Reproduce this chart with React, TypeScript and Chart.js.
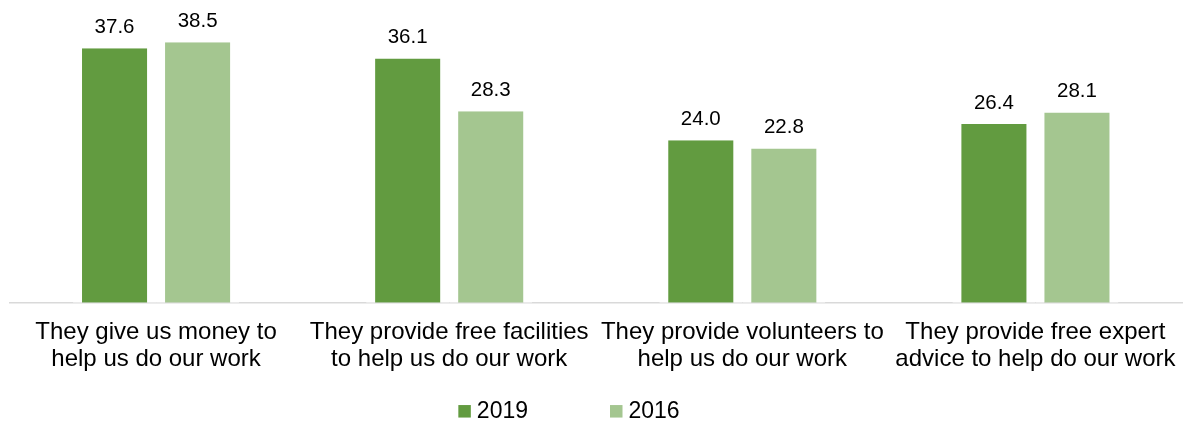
import React, { useEffect, useRef } from "react";
import { Chart, registerables } from "chart.js";

Chart.register(...registerables);

const categories: string[][] = [
  ["They give us money to", "help us do our work"],
  ["They provide free facilities", "to help us do our work"],
  ["They provide volunteers to", "help us do our work"],
  ["They provide free expert", "advice to help do our work"],
];
const series2019: number[] = [37.6, 36.1, 24.0, 26.4];
const series2016: number[] = [38.5, 28.3, 22.8, 28.1];
const seriesNames: string[] = ["2019", "2016"];

const FONT = "'Liberation Sans', Arial, sans-serif";

const valueLabels = {
  id: "valueLabels",
  afterDatasetsDraw(chart: any) {
    const ctx = chart.ctx;
    ctx.save();
    ctx.font = `20.5px ${FONT}`;
    ctx.fillStyle = "#000000";
    ctx.textAlign = "center";
    ctx.textBaseline = "alphabetic";
    chart.data.datasets.forEach((ds: any, di: number) => {
      const meta = chart.getDatasetMeta(di);
      meta.data.forEach((bar: any, i: number) => {
        const v = ds.data[i] as number;
        ctx.fillText(v.toFixed(1), bar.x, bar.y - 15.5);
      });
    });
    ctx.restore();
  },
};

// Legend drawn on the canvas below the axis labels
const bottomLegend = {
  id: "bottomLegend",
  afterDraw(chart: any) {
    const ctx = chart.ctx;
    ctx.save();
    ctx.font = `23px ${FONT}`;
    ctx.textBaseline = "middle";
    ctx.textAlign = "left";
    const box = 12.5;
    const textGap = 6;
    const itemGap = 82;
    const items = chart.data.datasets.map((ds: any) => ({
      label: ds.label as string,
      color: ds.backgroundColor as string,
      w: box + textGap + ctx.measureText(ds.label).width,
    }));
    const total = items.reduce((s: number, it: any) => s + it.w, 0) + itemGap * (items.length - 1);
    let x = 569 - total / 2;
    const cy = 411.3;
    items.forEach((it: any) => {
      ctx.fillStyle = it.color;
      ctx.fillRect(x, cy - box / 2, box, box);
      ctx.fillStyle = "#000000";
      ctx.fillText(it.label, x + box + textGap, cy);
      x += it.w + itemGap;
    });
    ctx.restore();
  },
};

export default function App() {
  const ref = useRef<HTMLCanvasElement | null>(null);
  useEffect(() => {
    document.body.style.margin = "0";
    if (!ref.current) return;
    const chart = new Chart(ref.current, {
      type: "bar",
      data: {
        labels: categories,
        datasets: [
          {
            label: seriesNames[0],
            data: series2019,
            backgroundColor: "#629B40",
            borderColor: "#ffffff",
            borderWidth: { left: 9, right: 9, top: 0, bottom: 0 },
            borderSkipped: false,
            categoryPercentage: 0.5666,
            barPercentage: 1,
          },
          {
            label: seriesNames[1],
            data: series2016,
            backgroundColor: "#A4C690",
            borderColor: "#ffffff",
            borderWidth: { left: 9, right: 9, top: 0, bottom: 0 },
            borderSkipped: false,
            categoryPercentage: 0.5666,
            barPercentage: 1,
          },
        ],
      },
      options: {
        animation: false,
        responsive: false,
        maintainAspectRatio: false,
        layout: { padding: { left: 9.5, right: 2, top: 32, bottom: 34 } },
        scales: {
          x: {
            z: 1,
            afterFit: (scale: any) => {
              scale.paddingLeft = 0;
              scale.paddingRight = 0;
            },
            grid: { display: false, drawTicks: false },
            border: { display: true, color: "#d9d9d9", width: 1.5 },
            ticks: {
              color: "#000000",
              font: { family: FONT, size: 24, lineHeight: 1.13 },
              padding: 16,
              maxRotation: 0,
              minRotation: 0,
              autoSkip: false,
            },
          },
          y: {
            display: false,
            min: 0,
            max: 40,
          },
        },
        plugins: {
          tooltip: { enabled: false },
          legend: { display: false },
        },
      },
      plugins: [valueLabels, bottomLegend],
    });
    return () => chart.destroy();
  }, []);
  return (
    <div style={{ width: 1184, height: 423 }}>
      <canvas ref={ref} width={1184} height={423} style={{ display: "block" }} />
    </div>
  );
}
